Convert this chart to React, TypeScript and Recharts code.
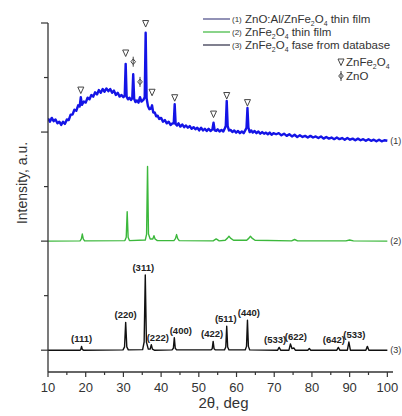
import { LineChart, Line, XAxis, YAxis, ReferenceDot } from "recharts";

document.body.style.margin = "0";

const font = '"Liberation Sans", Arial, sans-serif';

// 2theta (deg), intensity (a.u., traces stacked with offsets)
const zaoFilm: [number, number][] = [
  [10.0, 42.5], [10.5, 41.9], [11.0, 42.6], [11.5, 42.0], [12.0, 42.3], [12.5, 41.6], [13.0, 41.9], [13.5, 41.3],
  [14.0, 41.9], [14.5, 41.5], [15.0, 42.3], [15.5, 42.2], [16.0, 43.2], [16.5, 43.2], [17.0, 44.1], [17.5, 43.9],
  [18.0, 44.9], [18.4, 44.7], [18.7, 46.4], [19.0, 45.0], [19.5, 45.6], [20.0, 45.4], [20.5, 46.3], [21.0, 46.0],
  [21.5, 46.8], [22.0, 46.5], [22.5, 47.3], [23.0, 46.9], [23.5, 47.7], [24.0, 47.2], [24.5, 47.9], [25.0, 47.4],
  [25.5, 48.0], [26.0, 47.5], [26.5, 47.9], [27.0, 47.2], [27.5, 47.6], [28.0, 46.8], [28.5, 47.2], [29.0, 46.5],
  [29.5, 46.8], [30.0, 46.4], [30.35, 46.7], [30.6, 52.5], [30.85, 46.5], [31.2, 46.0], [31.6, 46.3], [32.0, 45.9],
  [32.35, 46.2], [32.6, 50.6], [32.85, 46.1], [33.2, 45.5], [33.6, 45.8], [34.0, 45.4], [34.4, 46.4], [34.8, 45.6],
  [35.3, 45.9], [35.65, 46.4], [35.9, 58.2], [36.15, 46.2], [36.5, 44.8], [36.9, 44.2], [37.3, 44.3], [37.6, 44.9],
  [37.9, 43.6], [38.3, 43.6], [38.7, 42.9], [39.1, 43.0], [39.5, 42.4], [40.0, 42.6], [40.5, 41.9], [41.0, 42.2],
  [41.5, 41.6], [42.0, 41.9], [42.5, 41.3], [43.0, 41.6], [43.35, 41.6], [43.6, 45.1], [43.85, 41.5], [44.2, 41.2],
  [44.6, 41.6], [45.1, 41.0], [45.6, 41.4], [46.1, 40.9], [46.6, 41.2], [47.1, 40.8], [47.6, 41.1], [48.1, 40.6],
  [48.6, 40.9], [49.1, 40.5], [49.6, 40.8], [50.1, 40.3], [50.6, 40.8], [51.1, 40.3], [51.6, 40.6], [52.1, 40.2],
  [52.6, 40.6], [53.1, 40.2], [53.6, 40.5], [53.9, 41.7], [54.2, 40.3], [54.6, 40.2], [55.0, 40.5], [55.5, 40.1],
  [56.0, 40.4], [56.5, 40.1], [56.9, 40.7], [57.15, 41.1], [57.4, 45.7], [57.65, 41.1], [58.0, 40.3], [58.4, 40.4],
  [58.9, 40.0], [59.4, 40.3], [59.9, 39.9], [60.4, 40.2], [60.9, 39.8], [61.4, 40.1], [61.9, 39.8], [62.3, 40.3],
  [62.65, 40.8], [62.9, 44.4], [63.15, 40.8], [63.5, 40.0], [63.9, 40.3], [64.3, 39.9], [64.8, 40.2], [65.3, 39.8],
  [65.8, 40.1], [66.3, 39.7], [66.8, 40.0], [67.3, 39.7], [67.8, 39.9], [68.3, 39.6], [68.8, 39.9], [69.3, 39.5],
  [69.8, 39.8], [70.5, 39.6], [71.2, 39.8], [71.9, 39.4], [72.6, 39.7], [73.3, 39.3], [74.0, 39.6], [74.7, 39.2],
  [75.4, 39.5], [76.1, 39.1], [76.8, 39.4], [77.5, 39.1], [78.2, 39.3], [78.9, 39.0], [79.6, 39.3], [80.3, 39.0],
  [81.0, 39.2], [81.7, 38.9], [82.4, 39.2], [83.1, 38.8], [83.8, 39.1], [84.5, 38.8], [85.2, 39.0], [85.9, 38.7],
  [86.6, 39.0], [87.3, 38.7], [88.0, 38.9], [88.7, 38.6], [89.4, 38.9], [90.1, 38.6], [90.8, 38.8], [91.5, 38.5],
  [92.2, 38.8], [92.9, 38.5], [93.6, 38.7], [94.3, 38.4], [95.0, 38.7], [95.7, 38.4], [96.4, 38.6], [97.1, 38.3],
  [97.8, 38.6], [98.5, 38.3], [99.2, 38.5], [100.0, 38.4],
];

const zfoFilm: [number, number][] = [
  [10, 20], [18.5, 20.05], [18.85, 20.4], [19.1, 21.3], [19.35, 20.4], [19.7, 20.05],
  [30.4, 20.1], [30.75, 20.7], [31.0, 25.4], [31.25, 20.7], [31.6, 20.1],
  [35.8, 20.2], [36.15, 21.3], [36.4, 33.7], [36.65, 21.3], [37.1, 20.4], [37.8, 20.4], [38.1, 21.0], [38.4, 20.4], [39.0, 20.1],
  [43.4, 20.1], [43.8, 20.45], [44.1, 21.2], [44.4, 20.45], [44.8, 20.1],
  [53.8, 20.05], [54.6, 20.4], [55.4, 20.05],
  [57.0, 20.15], [57.6, 20.55], [58.0, 20.9], [58.4, 20.55], [59.2, 20.15],
  [62.7, 20.15], [63.3, 20.55], [63.7, 20.9], [64.1, 20.55], [64.9, 20.15],
  [74.6, 20.05], [75.4, 20.3], [76.2, 20.05], [89.0, 20.05], [90.0, 20.2], [91.0, 20.05], [100, 20],
];

const zfoDatabase: [number, number][] = [
  [10, 0], [18.5, 0], [18.7, 0.15], [18.9, 0.7], [19.1, 0.15], [19.4, 0],
  [29.9, 0.05], [30.3, 0.6], [30.6, 5.1], [30.9, 0.6], [31.3, 0.05],
  [35.1, 0.1], [35.5, 1.5], [35.8, 13.8], [36.1, 1.5], [36.6, 0.2], [37.1, 0.2], [37.4, 1.0], [37.7, 0.2], [38.2, 0],
  [42.9, 0.05], [43.25, 0.35], [43.5, 2.3], [43.75, 0.35], [44.1, 0.05],
  [53.2, 0.05], [53.55, 0.25], [53.8, 1.6], [54.05, 0.25], [54.4, 0.05],
  [56.8, 0.05], [57.15, 0.6], [57.4, 4.4], [57.65, 0.6], [58.0, 0.05],
  [62.3, 0.05], [62.65, 0.7], [62.9, 5.5], [63.15, 0.7], [63.5, 0.05],
  [70.9, 0], [71.3, 0.5], [71.7, 0], [73.9, 0], [74.3, 1.15], [74.7, 0.3], [75.2, 0.4], [75.6, 0],
  [78.9, 0], [79.3, 0.3], [79.7, 0], [86.6, 0], [87.0, 0.5], [87.4, 0], [89.4, 0], [89.8, 1.5], [90.2, 0],
  [94.3, 0], [94.7, 0.7], [95.1, 0], [100, 0],
];

const hklLabels = ["(111)", "(220)", "(311)", "(222)", "(400)", "(422)", "(511)", "(440)", "(533)", "(622)", "(642)", "(533)"];
const hklTheta = [18.9, 30.6, 35.8, 37.4, 43.5, 53.8, 57.4, 62.9, 71.3, 74.3, 87.0, 89.8];
const hklPeak = [0.7, 5.1, 13.8, 1.0, 2.3, 1.6, 4.4, 5.5, 0.5, 1.15, 0.5, 1.5];
const hklNudge = [0, 0, -2, 6.5, 6.5, -1, -1, 1.5, -4, 5.5, -4.5, 5.5];

// phase markers above the peaks of trace (1)
const spinelTheta = [18.7, 30.6, 35.9, 37.6, 43.6, 53.9, 57.4, 62.9];
const spinelLevel = [47.7, 54.5, 59.9, 47.3, 46.3, 43.3, 46.7, 45.4];
const zincOxideTheta = [32.6, 34.4];
const zincOxideLevel = [52.9, 49.2];

const xTicks = [10, 15, 20, 25, 30, 35, 40, 45, 50, 55, 60, 65, 70, 75, 80, 85, 90, 95, 100];
const yTicks = [0, 10, 20, 30, 40, 50, 60];

const seriesNames = ["ZnO:Al/ZnFe2O4 thin film", "ZnFe2O4 thin film", "ZnFe2O4 fase from database"];
const seriesTags = ["(1)", "(2)", "(3)"];
const seriesColors = ["#1414e6", "#3cb83c", "#111111"];
const legendColors = ["#4a4a86", "#3cb83c", "#2a2a44"];

const toPoints = (rows: [number, number][]) => rows.map(([t, i]) => ({ t, i }));

function Chem({ text, size }: { text: string; size: number }) {
  const parts = text.split(/(\d)/).filter((p) => p !== "");
  let prevSub = false;
  return (
    <>
      {parts.map((p, k) => {
        const sub = /^\d$/.test(p);
        const dy = sub === prevSub ? 0 : sub ? size * 0.22 : -size * 0.22;
        prevSub = sub;
        return (
          <tspan key={k} dy={dy} fontSize={sub ? size * 0.6 : size}>
            {p}
          </tspan>
        );
      })}
    </>
  );
}

const Triangle = ({ cx, cy }: any) => (
  <path
    d={`M${cx - 3},${cy - 3} L${cx + 3},${cy - 3} L${cx},${cy + 3.5} Z`}
    fill="none"
    stroke="#444"
    strokeWidth={1}
  />
);

const ZnOMark = ({ cx, cy }: any) => (
  <g stroke="#444" strokeWidth={1} fill="none">
    <line x1={cx} x2={cx} y1={cy - 5} y2={cy + 5} />
    <path d={`M${cx},${cy - 2.8} L${cx + 2.3},${cy} L${cx},${cy + 2.8} L${cx - 2.3},${cy} Z`} />
  </g>
);

const XTick = ({ x, y, payload }: any) => {
  const major = payload.value % 10 === 0;
  return (
    <g>
      <line x1={x} x2={x} y1={y} y2={y + (major ? 5 : 3)} stroke="#333" strokeWidth={1.2} />
      {major && (
        <text x={x} y={y + 20} textAnchor="middle" fontSize={13} fill="#333" fontFamily={font}>
          {payload.value}
        </text>
      )}
    </g>
  );
};

const YTick = ({ x, y, payload }: any) => {
  const major = payload.value % 20 === 0;
  return <line x1={x - (major ? 7 : 4)} x2={x} y1={y} y2={y} stroke="#333" strokeWidth={1.2} />;
};

export default function App() {
  const traces = [zaoFilm, zfoFilm, zfoDatabase];
  return (
    <div style={{ position: "relative", width: 402, height: 416, background: "#fff" }}>
      <LineChart width={402} height={416} margin={{ top: 23, right: 9, bottom: 0, left: 0 }}>
        <XAxis
          dataKey="t"
          type="number"
          domain={[10, 101.5]}
          allowDataOverflow
          ticks={xTicks}
          interval={0}
          tickSize={0}
          tickMargin={0}
          tickLine={false}
          tick={<XTick />}
          height={44}
          axisLine={{ stroke: "#333", strokeWidth: 1.3 }}
          label={{ value: "2θ, deg", position: "insideBottom", offset: 8, fontSize: 15, fill: "#333", fontFamily: font, dx: 3 }}
        />
        <YAxis
          dataKey="i"
          type="number"
          domain={[-4, 60]}
          allowDataOverflow
          ticks={yTicks}
          interval={0}
          tickSize={0}
          tickMargin={0}
          tickLine={false}
          tick={<YTick />}
          width={48}
          axisLine={{ stroke: "#333", strokeWidth: 1.3 }}
        />
        {traces.map((rows, k) => (
          <Line
            key={seriesNames[k]}
            data={toPoints(rows)}
            dataKey="i"
            name={seriesNames[k]}
            type="linear"
            stroke={seriesColors[k]}
            strokeWidth={k === 0 ? 2.4 : 1.4}
            strokeLinejoin="round"
            dot={false}
            activeDot={false}
            isAnimationActive={false}
          />
        ))}
        {traces.map((rows, k) => (
          <ReferenceDot
            key={seriesTags[k]}
            x={rows[rows.length - 1][0]}
            y={rows[rows.length - 1][1]}
            r={1}
            shape={(p: any) => (
              <text x={p.cx + 3} y={p.cy + 3} fontSize={9} fill="#333" fontFamily={font}>
                {seriesTags[k]}
              </text>
            )}
          />
        ))}
        {hklLabels.map((lab, k) => (
          <ReferenceDot
            key={"hkl" + k}
            x={hklTheta[k]}
            y={hklPeak[k]}
            r={1}
            shape={(p: any) => (
              <text
                x={p.cx + hklNudge[k]}
                y={p.cy - 4}
                textAnchor="middle"
                fontSize={9.5}
                fontWeight="bold"
                fill="#222"
                fontFamily={font}
              >
                {lab}
              </text>
            )}
          />
        ))}
        {spinelTheta.map((t, k) => (
          <ReferenceDot key={"sp" + k} x={t} y={spinelLevel[k]} r={1} shape={(p: any) => <Triangle cx={p.cx} cy={p.cy} />} />
        ))}
        {zincOxideTheta.map((t, k) => (
          <ReferenceDot key={"zo" + k} x={t} y={zincOxideLevel[k]} r={1} shape={(p: any) => <ZnOMark cx={p.cx} cy={p.cy} />} />
        ))}
      </LineChart>

      <svg
        width={402}
        height={416}
        style={{ position: "absolute", left: 0, top: 0, pointerEvents: "none" }}
        fontFamily={font}
      >
        <text
          x={22}
          y={183}
          transform="rotate(-90 22 183)"
          textAnchor="middle"
          dominantBaseline="central"
          fontSize={14}
          fill="#333"
        >
          Intensity, a.u.
        </text>
        {seriesNames.map((name, k) => {
          const y = 19 + k * 13;
          return (
            <g key={name}>
              <line x1={203} x2={230} y1={y} y2={y} stroke={legendColors[k]} strokeWidth={1.2} />
              <text x={232} y={y + 3} fontSize={8} fill="#333">
                {seriesTags[k]}
              </text>
              <text x={245} y={y + 4} fill="#333">
                <Chem text={name} size={11.5} />
              </text>
            </g>
          );
        })}
        <Triangle cx={341} cy={62} />
        <text x={346} y={66} fill="#333">
          <Chem text="ZnFe2O4" size={11.5} />
        </text>
        <ZnOMark cx={341} cy={76} />
        <text x={346} y={80} fill="#333" fontSize={11.5}>
          ZnO
        </text>
      </svg>
    </div>
  );
}
